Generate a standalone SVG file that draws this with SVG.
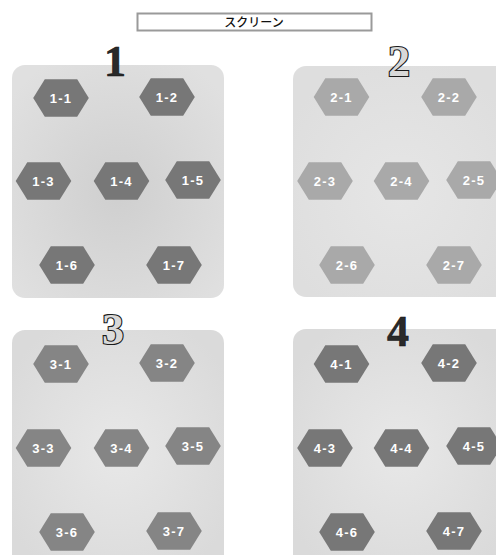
<svg xmlns="http://www.w3.org/2000/svg" width="496" height="555" viewBox="0 0 496 555">
<style>
.hx{stroke:none}
.h1 .hx,.h4 .hx{fill:#777777}
.h3 .hx{fill:#858585}
.h2 .hx{fill:#a9a9a9}
.lb{font-family:"Liberation Sans",Arial,sans-serif;font-weight:bold;font-size:13px;fill:#ffffff;text-anchor:middle;letter-spacing:1.2px}
.num{font-family:"Liberation Serif","Times New Roman",serif;font-weight:bold;font-size:44px;text-anchor:middle}
.solid{fill:#2a2a2a;stroke:#111;stroke-width:0.6}
.hollow{fill:#d8d8d8;stroke:#1a1a1a;stroke-width:2.2;paint-order:stroke}
.scr{font-family:"Noto Sans CJK JP","Noto Sans",sans-serif;font-size:12px;font-weight:500;fill:#111;text-anchor:middle}
</style>
<defs>
<polygon id="hex" points="-27.8,0 -16.2,-18.8 16.2,-18.8 27.8,0 16.2,18.8 -16.2,18.8"/>
<radialGradient id="g1" cx="0.5" cy="0.55" r="0.65">
<stop offset="0" stop-color="#cfcfcf"/><stop offset="1" stop-color="#e0e0e0"/>
</radialGradient>
<radialGradient id="g2" cx="0.5" cy="0.55" r="0.6">
<stop offset="0" stop-color="#e6e6e6"/><stop offset="1" stop-color="#dedede"/>
</radialGradient>
<radialGradient id="g3" cx="0.5" cy="0.5" r="0.6">
<stop offset="0" stop-color="#e8e8e8"/><stop offset="1" stop-color="#dadada"/>
</radialGradient>
</defs>
<rect x="0" y="0" width="496" height="555" fill="#ffffff"/>
<g id="screen">
<rect x="137.5" y="13.5" width="234" height="17" fill="#ffffff" stroke="#9a9a9a" stroke-width="2"/>
<text class="scr" x="254" y="26.5">スクリーン</text>
</g>
<g id="panel1">
<rect x="12" y="65" width="212" height="233" rx="13" fill="url(#g1)"/>
<text class="num solid" x="115" y="76">1</text>
</g>
<g id="panel2">
<rect x="293" y="66" width="215" height="231" rx="13" fill="url(#g2)"/>
<text class="num hollow" x="399" y="76">2</text>
</g>
<g id="panel3">
<rect x="12" y="330" width="212" height="240" rx="13" fill="url(#g3)"/>
<text class="num hollow" x="113" y="344">3</text>
</g>
<g id="panel4">
<rect x="293" y="329" width="215" height="240" rx="13" fill="url(#g3)"/>
<text class="num solid" x="398" y="346">4</text>
</g>
<g class="h1">
<g id="n1-1"><use href="#hex" class="hx" x="61" y="98"/><text class="lb" x="61" y="102.5">1-1</text></g>
<g id="n1-2"><use href="#hex" class="hx" x="167" y="97"/><text class="lb" x="167" y="101.5">1-2</text></g>
<g id="n1-3"><use href="#hex" class="hx" x="43.5" y="181"/><text class="lb" x="43.5" y="185.5">1-3</text></g>
<g id="n1-4"><use href="#hex" class="hx" x="121.5" y="181"/><text class="lb" x="121.5" y="185.5">1-4</text></g>
<g id="n1-5"><use href="#hex" class="hx" x="193" y="180"/><text class="lb" x="193" y="184.5">1-5</text></g>
<g id="n1-6"><use href="#hex" class="hx" x="67" y="265"/><text class="lb" x="67" y="269.5">1-6</text></g>
<g id="n1-7"><use href="#hex" class="hx" x="174" y="265"/><text class="lb" x="174" y="269.5">1-7</text></g>
</g>
<g class="h2">
<g id="n2-1"><use href="#hex" class="hx" x="341.5" y="97"/><text class="lb" x="341.5" y="101.5">2-1</text></g>
<g id="n2-2"><use href="#hex" class="hx" x="449" y="97"/><text class="lb" x="449" y="101.5">2-2</text></g>
<g id="n2-3"><use href="#hex" class="hx" x="325" y="181"/><text class="lb" x="325" y="185.5">2-3</text></g>
<g id="n2-4"><use href="#hex" class="hx" x="401.5" y="181"/><text class="lb" x="401.5" y="185.5">2-4</text></g>
<g id="n2-5"><use href="#hex" class="hx" x="474" y="180"/><text class="lb" x="474" y="184.5">2-5</text></g>
<g id="n2-6"><use href="#hex" class="hx" x="347" y="265"/><text class="lb" x="347" y="269.5">2-6</text></g>
<g id="n2-7"><use href="#hex" class="hx" x="454" y="265"/><text class="lb" x="454" y="269.5">2-7</text></g>
</g>
<g class="h3">
<g id="n3-1"><use href="#hex" class="hx" x="61" y="364"/><text class="lb" x="61" y="368.5">3-1</text></g>
<g id="n3-2"><use href="#hex" class="hx" x="167" y="363"/><text class="lb" x="167" y="367.5">3-2</text></g>
<g id="n3-3"><use href="#hex" class="hx" x="43.5" y="448"/><text class="lb" x="43.5" y="452.5">3-3</text></g>
<g id="n3-4"><use href="#hex" class="hx" x="121.5" y="448"/><text class="lb" x="121.5" y="452.5">3-4</text></g>
<g id="n3-5"><use href="#hex" class="hx" x="193" y="446"/><text class="lb" x="193" y="450.5">3-5</text></g>
<g id="n3-6"><use href="#hex" class="hx" x="67" y="532"/><text class="lb" x="67" y="536.5">3-6</text></g>
<g id="n3-7"><use href="#hex" class="hx" x="174" y="531"/><text class="lb" x="174" y="535.5">3-7</text></g>
</g>
<g class="h4">
<g id="n4-1"><use href="#hex" class="hx" x="341.5" y="364"/><text class="lb" x="341.5" y="368.5">4-1</text></g>
<g id="n4-2"><use href="#hex" class="hx" x="449" y="363"/><text class="lb" x="449" y="367.5">4-2</text></g>
<g id="n4-3"><use href="#hex" class="hx" x="325" y="448"/><text class="lb" x="325" y="452.5">4-3</text></g>
<g id="n4-4"><use href="#hex" class="hx" x="401.5" y="448"/><text class="lb" x="401.5" y="452.5">4-4</text></g>
<g id="n4-5"><use href="#hex" class="hx" x="474" y="446"/><text class="lb" x="474" y="450.5">4-5</text></g>
<g id="n4-6"><use href="#hex" class="hx" x="347" y="532"/><text class="lb" x="347" y="536.5">4-6</text></g>
<g id="n4-7"><use href="#hex" class="hx" x="454" y="531"/><text class="lb" x="454" y="535.5">4-7</text></g>
</g>
<g id="connectors"/>
</svg>
